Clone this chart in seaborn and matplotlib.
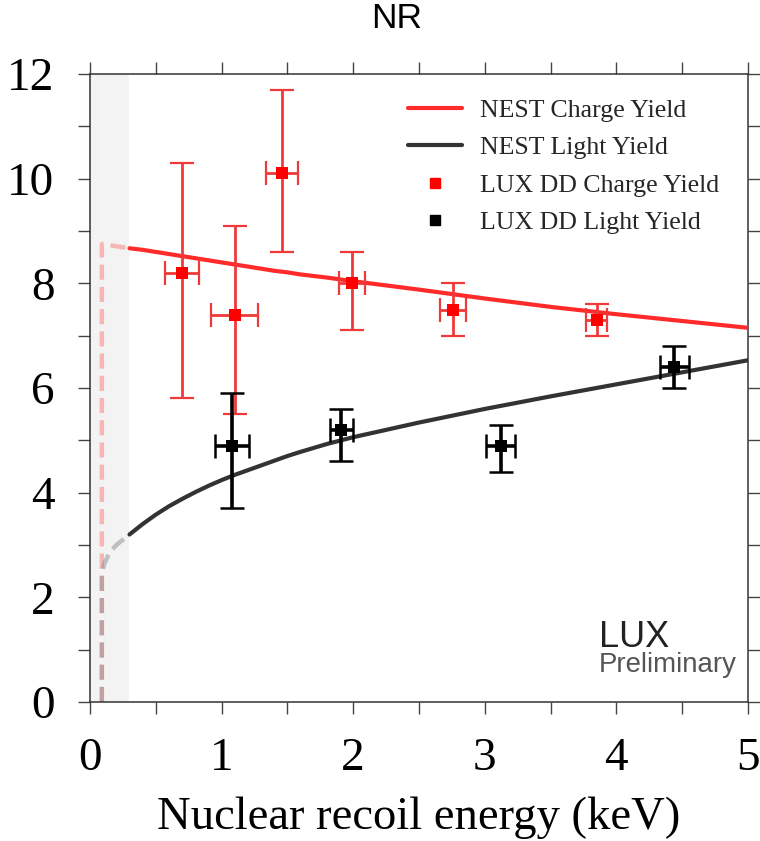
import numpy as np
import pandas as pd
import matplotlib
matplotlib.use("Agg")
import matplotlib.pyplot as plt
from matplotlib.lines import Line2D
from matplotlib.ticker import MultipleLocator
import seaborn as sns

# NEST model curves above the 0.3 keV threshold (keV, yield)
nest_energy = [0.3, 0.4, 0.5, 0.6, 0.7, 0.8, 0.9, 1.0, 1.1, 1.2, 1.3, 1.4, 1.5, 1.6, 1.8,
               2.0, 2.5, 3.0, 3.5, 4.0, 4.5, 5.0]
nest_charge = [8.67, 8.64, 8.60, 8.56, 8.52, 8.48, 8.44, 8.40, 8.36, 8.32, 8.28, 8.24, 8.21,
               8.17, 8.11, 8.04, 7.88, 7.71, 7.55, 7.41, 7.28, 7.15]
nest_light = [3.20, 3.40, 3.58, 3.74, 3.88, 4.01, 4.13, 4.24, 4.34, 4.43, 4.52, 4.61, 4.70,
              4.78, 4.93, 5.06, 5.34, 5.60, 5.84, 6.07, 6.30, 6.53]

# NEST extrapolation below threshold (dashed)
charge_ext_energy = [0.09, 0.09, 0.15, 0.22, 0.30]
charge_ext = [0.0, 8.75, 8.73, 8.70, 8.67]
light_ext_energy = [0.09, 0.09, 0.11, 0.15, 0.20, 0.25, 0.30]
light_ext = [0.0, 2.45, 2.65, 2.86, 3.00, 3.10, 3.20]

# LUX DD measurements
charge_e = [0.70, 1.10, 1.46, 1.99, 2.76, 3.85]
charge_y = [8.2, 7.4, 10.1, 8.0, 7.5, 7.3]
charge_xerr = [0.13, 0.18, 0.12, 0.10, 0.10, 0.08]
charge_err_lo = [2.4, 1.9, 1.5, 0.9, 0.5, 0.3]
charge_err_hi = [2.1, 1.7, 1.6, 0.6, 0.5, 0.3]

light_e = [1.08, 1.91, 3.12, 4.44]
light_y = [4.9, 5.2, 4.9, 6.4]
light_xerr = [0.13, 0.09, 0.11, 0.11]
light_err_lo = [1.2, 0.6, 0.5, 0.4]
light_err_hi = [1.0, 0.4, 0.4, 0.4]

threshold = 0.3

sns.set_theme(style="ticks")
plt.rcParams["font.family"] = ["Liberation Serif", "DejaVu Serif"]
plt.rcParams["axes.edgecolor"] = "#333333"
plt.rcParams["axes.linewidth"] = 1.1

RED = "#ff2b2b"
DARK = "#333333"

fig = plt.figure(figsize=(7.6, 8.41), dpi=100)
ax = fig.add_axes([90 / 760, 1 - 702 / 841, 658 / 760, 628 / 841])

ax.axvspan(0, threshold, color="#f3f3f3", lw=0, zorder=0)

nest = pd.DataFrame({"E": nest_energy, "charge": nest_charge, "light": nest_light})
cext = pd.DataFrame({"E": charge_ext_energy, "Y": charge_ext})
lext = pd.DataFrame({"E": light_ext_energy, "Y": light_ext})

sns.lineplot(data=cext, x="E", y="Y", ax=ax, estimator=None, sort=False,
             color=RED, alpha=0.3, lw=3.2, linestyle=(0, (3.4, 1.6)), zorder=2)
sns.lineplot(data=lext, x="E", y="Y", ax=ax, estimator=None, sort=False,
             color="#8c8c8c", alpha=0.5, lw=3.2, linestyle=(0, (3.4, 1.6)), zorder=2)
sns.lineplot(data=nest, x="E", y="charge", ax=ax, estimator=None, sort=False,
             color=RED, lw=3, zorder=3)
sns.lineplot(data=nest, x="E", y="light", ax=ax, estimator=None, sort=False,
             color=DARK, lw=3, zorder=3)

ax.errorbar(charge_e, charge_y, xerr=charge_xerr, yerr=[charge_err_lo, charge_err_hi],
            fmt="none", ecolor="#f03a3a", elinewidth=2.0, capsize=8.5, capthick=1.6, zorder=4)
ax.errorbar(light_e, light_y, xerr=light_xerr, yerr=[light_err_lo, light_err_hi],
            fmt="none", ecolor="black", elinewidth=2.6, capsize=8.5, capthick=1.8, zorder=5)

pts_c = pd.DataFrame({"E": charge_e, "Y": charge_y})
pts_l = pd.DataFrame({"E": light_e, "Y": light_y})
sns.scatterplot(data=pts_c, x="E", y="Y", ax=ax, marker="s", s=80, color="#ff0000",
                linewidth=0, zorder=6)
sns.scatterplot(data=pts_l, x="E", y="Y", ax=ax, marker="s", s=85, color="black",
                linewidth=0, zorder=6)

ax.set_xlim(0, 5)
ax.set_ylim(0, 12)
ax.xaxis.set_major_locator(MultipleLocator(1))
ax.xaxis.set_minor_locator(MultipleLocator(0.5))
ax.yaxis.set_major_locator(MultipleLocator(2))
ax.yaxis.set_minor_locator(MultipleLocator(1))
ax.tick_params(which="both", direction="out", length=8.6, width=1.0, color="#444444",
               top=True, right=True, labelsize=34, pad=17, labelcolor="black")
ax.set_xlabel("Nuclear recoil energy (keV)", fontsize=33.6, labelpad=12, color="black")
ax.set_ylabel("")
for side in ["top", "right", "left", "bottom"]:
    ax.spines[side].set_visible(True)

handles = [
    Line2D([], [], color=RED, lw=3),
    Line2D([], [], color=DARK, lw=3),
    Line2D([], [], color="#ff0000", marker="s", ms=7.5, lw=0),
    Line2D([], [], color="black", marker="s", ms=7.5, lw=0),
]
labels = ["NEST Charge Yield", "NEST Light Yield", "LUX DD Charge Yield", "LUX DD Light Yield"]
ax.legend(handles, labels, loc="upper left", bbox_to_anchor=((408 - 90) / 658, (702 - 99) / 628),
          frameon=False, fontsize=18.6, handlelength=2.1, handletextpad=0.7,
          labelspacing=0.55, borderpad=0, borderaxespad=0)

ax.text((599 - 90) / 658, (702 - 647) / 628, "LUX", transform=ax.transAxes,
        family="Liberation Sans", fontsize=26, color="#222222", va="baseline", ha="left")
ax.text((599 - 90) / 658, (702 - 672) / 628, "Preliminary", transform=ax.transAxes,
        family="Liberation Sans", fontsize=19.9, color="#555555", va="baseline", ha="left")

fig.text(397 / 760, 1 - 19 / 841, "NR", family="Liberation Sans", fontsize=25.5,
         ha="center", va="center", color="black")

fig.savefig("out.png", dpi=100)
